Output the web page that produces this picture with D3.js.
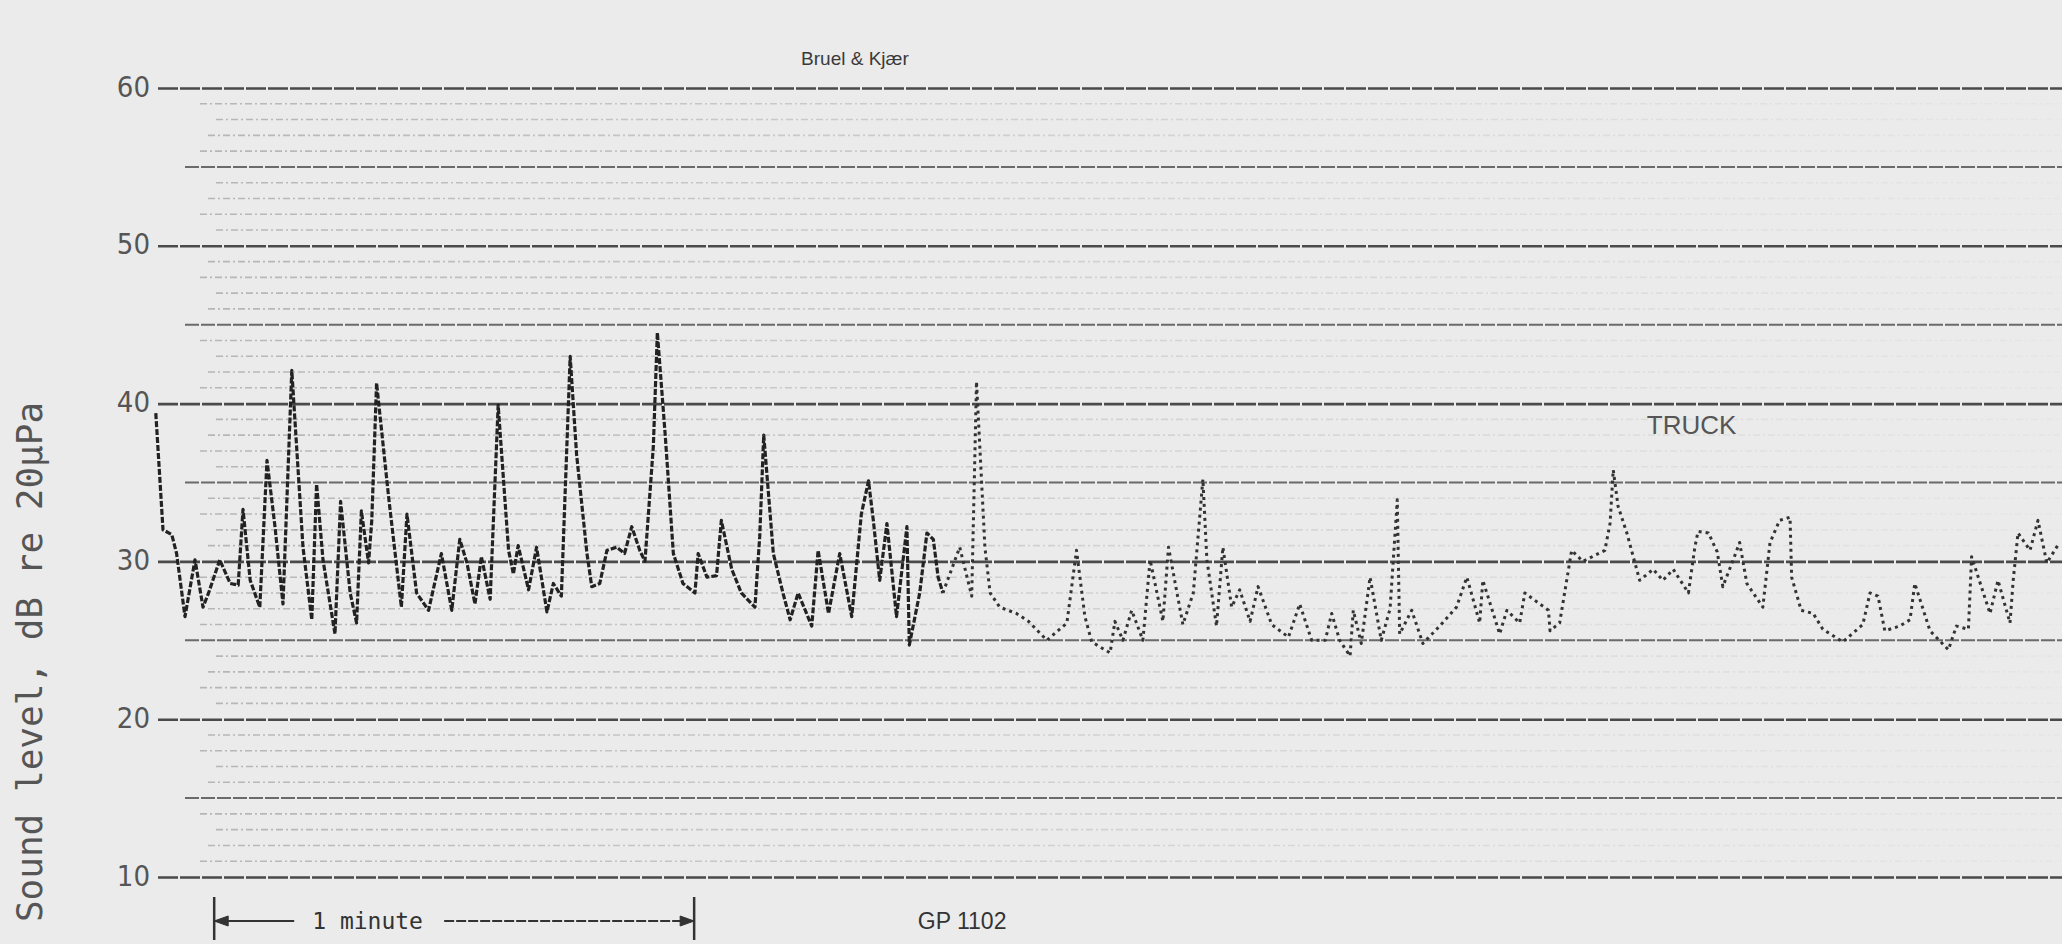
<!DOCTYPE html>
<html>
<head>
<meta charset="utf-8">
<script src="https://cdn.jsdelivr.net/npm/d3@7/dist/d3.min.js"></script>
<style>
  body { margin: 0; background: #ebebeb; overflow: hidden; }
  svg { display: block; }
</style>
</head>
<body>
<div id="chart-area"></div>
<script>
// level recorder trace, read off the strip
// time in seconds from the left edge of the strip
var times = [0.1, 1.0, 2.1, 2.7, 3.75, 5.0, 6.0, 6.7, 8.1, 9.4, 10.4, 11.0, 11.9, 13.1, 14.0, 15.0, 16.0, 17.1,
	18.5, 19.6, 20.2, 21.0, 22.5, 23.2, 24.4, 25.2, 25.8, 26.7, 27.1, 27.7, 29.2, 30.8, 31.5, 32.7, 34.2, 35.8,
	37.1, 38.1, 39.0, 40.0, 40.8, 41.9, 42.9, 44.2, 44.8, 45.4, 46.7, 47.7, 49.0, 49.8, 50.8, 51.9, 52.7, 54.0,
	54.6, 55.6, 56.5, 57.7, 58.7, 59.6, 60.6, 61.25, 62.3, 62.8, 63.8, 64.8, 66.0, 67.5, 67.9, 69.0, 70.2, 70.8,
	72.1, 73.3, 75.0, 75.6, 76.1, 77.3, 78.5, 79.4, 80.4, 82.1, 82.9, 84.2, 85.6, 87.1, 88.3, 89.2, 89.8, 90.6,
	91.5, 92.7, 94.0, 94.3, 95.6, 96.5, 97.3, 97.9, 98.5, 100.6, 102.1, 102.7, 103.75, 104.4, 105.6, 107.7, 109.2,
	111.5, 114.0, 115.2, 116.25, 117.1, 119.4, 120.0, 121.0, 122.1, 123.5, 124.4, 126.0, 126.7, 128.5, 129.8,
	131.0, 131.5, 132.7, 133.5, 134.6, 135.6, 136.9, 137.9, 139.6, 141.7, 143.1, 144.6, 146.3, 147.1, 148.1,
	149.4, 149.8, 150.8, 151.9, 153.3, 154.4, 155.3, 155.6, 157.1, 158.5, 160.6, 162.7, 164.0, 165.6, 166.0,
	168.1, 169.0, 170.6, 171.25, 174.2, 174.4, 175.6, 177.1, 178.5, 181.25, 181.9, 182.3, 182.9, 184.0, 185.6,
	187.3, 188.5, 189.8, 191.7, 192.5, 192.9, 194.2, 195.3, 196.0, 197.3, 198.1, 199.0, 201.0, 201.9, 203.1,
	204.4, 204.6, 205.8, 207.3, 208.5, 211.0, 213.5, 214.4, 215.4, 216.25, 218.1, 219.4, 220.0, 221.9, 224.2,
	225.2, 226.7, 227.1, 229.4, 230.4, 231.9, 232.3, 232.9, 234.4, 235.4, 236.5, 238.1];

// sound level, dB re 20 uPa
var levels = [39.4, 32.0, 31.7, 30.5, 26.5, 30.1, 27.1, 28.0, 30.1, 28.6, 28.5, 33.3, 28.8, 27.1, 36.4, 32.2, 27.3, 42.1,
	30.9, 26.3, 34.9, 30.1, 25.4, 33.8, 28.0, 26.1, 33.2, 29.9, 32.6, 41.3, 34.1, 27.1, 33.0, 28.0, 26.9, 30.5,
	26.9, 31.4, 29.9, 27.3, 30.3, 27.6, 39.9, 30.7, 29.2, 31.0, 28.2, 30.9, 26.8, 28.6, 27.8, 43.0, 36.8, 30.5,
	28.4, 28.6, 30.7, 30.9, 30.5, 32.2, 30.7, 30.0, 37.3, 44.5, 37.9, 30.5, 28.6, 28.0, 30.5, 29.0, 29.1, 32.6,
	29.5, 28.0, 27.1, 31.6, 38.0, 30.5, 28.0, 26.3, 28.0, 25.9, 30.7, 26.7, 30.5, 26.5, 33.0, 35.1, 32.6, 28.8,
	32.4, 26.5, 32.2, 24.7, 28.0, 31.8, 31.4, 29.0, 28.0, 30.9, 27.8, 41.4, 30.9, 28.0, 27.1, 26.7, 26.2,
	25.0, 26.1, 30.7, 26.5, 24.9, 24.2, 26.2, 25.0, 26.9, 25.0, 30.1, 26.2, 30.9, 26.0, 28.0,
	35.2, 30.1, 25.9, 30.9, 27.1, 28.2, 26.2, 28.4, 26.0, 25.2, 27.3, 25.0, 25.0, 26.7, 25.0,
	24.0, 26.9, 24.8, 29.0, 25.0, 27.0, 33.9, 25.4, 26.9, 24.8, 25.9, 27.1, 29.0, 26.1, 28.8,
	25.4, 26.9, 26.1, 28.0, 26.9, 25.6, 26.1, 30.7, 30.0, 30.7, 32.4, 35.8, 33.5, 31.8, 28.8,
	29.5, 28.8, 29.5, 28.0, 30.9, 31.9, 31.8, 30.6, 28.4, 30.1, 31.2, 28.6, 27.1, 31.2, 32.6,
	32.8, 29.0, 26.9, 26.7, 25.7, 24.9, 26.0, 28.0, 27.8, 25.6, 25.9, 26.3, 28.6, 25.6, 24.4,
	25.9, 25.7, 30.3, 26.7, 28.8, 26.1, 28.8, 31.8, 30.7, 32.6, 29.9, 31.2];

// axis values
var majorTicks = [10, 20, 30, 40, 50, 60];
var halfTicks = [15, 25, 35, 45, 55];
var paperLines = d3.range(11, 60).filter(function (v) { return v % 5 != 0; });

// texts
var chartTitle = "Bruel & Kjær";
var yTitle = "Sound level, dB re 20\u00b5Pa";
var truckLabel = "TRUCK";
var minuteLabel = "1 minute";
var sheetLabel = "GP 1102";

var totalWidth = 2062, totalHeight = 944;
var plotLeft = 155, plotRight = 2062, plotTop = 88, plotBottom = 877;

var svg = d3.select("#chart-area")
	.append("svg")
	.attr("width", totalWidth)
	.attr("height", totalHeight);

svg.append("rect")
	.attr("width", totalWidth)
	.attr("height", totalHeight)
	.attr("fill", "#ebebeb");

// scales
var x = d3.scaleLinear()
	.domain([0, 238.4])
	.range([plotLeft, plotRight]);

var y = d3.scaleLinear()
	.domain([10, 60])
	.range([plotBottom, plotTop]);

// faint chart paper lines every dB, fading towards the right
var defs = svg.append("defs");
var fade = defs.append("linearGradient")
	.attr("id", "fade")
	.attr("gradientUnits", "userSpaceOnUse")
	.attr("x1", 200).attr("x2", plotRight)
	.attr("y1", 0).attr("y2", 0);
fade.append("stop").attr("offset", "0").attr("stop-color", "#8a8a8a").attr("stop-opacity", 0.55);
fade.append("stop").attr("offset", "0.5").attr("stop-color", "#9a9a9a").attr("stop-opacity", 0.3);
fade.append("stop").attr("offset", "1").attr("stop-color", "#aaaaaa").attr("stop-opacity", 0.08);

svg.append("g")
	.attr("class", "paper")
	.selectAll("line")
	.data(paperLines)
	.enter()
	.append("line")
	.attr("x1", function (d, i) { return 200 + (i % 3) * 8; })
	.attr("x2", plotRight)
	.attr("y1", function (d) { return y(d); })
	.attr("y2", function (d) { return y(d); })
	.attr("stroke", "url(#fade)")
	.attr("stroke-width", 1.6)
	.attr("stroke-dasharray", "7,3,2,3");

// 5 dB lines
svg.append("g")
	.attr("class", "half grid")
	.selectAll("line")
	.data(halfTicks)
	.enter()
	.append("line")
	.attr("x1", 185)
	.attr("x2", plotRight)
	.attr("y1", function (d) { return y(d); })
	.attr("y2", function (d) { return y(d); })
	.attr("stroke", "#6a6a6a")
	.attr("stroke-width", 2)
	.attr("stroke-dasharray", "14,2");

// 10 dB lines
var grid = svg.append("g")
	.attr("class", "y grid")
	.attr("transform", "translate(" + 158 + ",0)")
	.call(d3.axisRight(y).tickValues(majorTicks).tickSize(plotRight - 158).tickFormat(""));
grid.select(".domain").remove();
grid.selectAll(".tick line")
	.attr("stroke", "#4a4a4a")
	.attr("stroke-width", 2.6)
	.attr("stroke-dasharray", "20,2");

// y axis labels
var yAxis = svg.append("g")
	.attr("class", "y axis")
	.attr("transform", "translate(" + 152 + ",0)")
	.call(d3.axisLeft(y).tickValues(majorTicks).tickSize(0).tickPadding(2));
yAxis.select(".domain").remove();
yAxis.selectAll("text")
	.attr("fill", "#555")
	.attr("dy", "0.28em")
	.style("font-family", "'Liberation Sans Narrow', 'Arial Narrow', 'DejaVu Sans Condensed', sans-serif")
	.style("font-size", "29px");

// y axis title
svg.append("text")
	.attr("transform", "rotate(-90)")
	.attr("x", -662)
	.attr("y", 42)
	.attr("text-anchor", "middle")
	.attr("fill", "#555")
	.style("font-family", "'DejaVu Sans Mono', 'Liberation Mono', monospace")
	.style("font-size", "36px")
	.text(yTitle);

// title
svg.append("text")
	.attr("x", x(87.5))
	.attr("y", 65)
	.attr("text-anchor", "middle")
	.attr("fill", "#3a3a3a")
	.style("font-family", "'Liberation Sans', Arial, sans-serif")
	.style("font-size", "19px")
	.text(chartTitle);

// trace
var line = d3.line()
	.x(function (d) { return x(d.t); })
	.y(function (d) { return y(d.v); });

var trace = times.map(function (t, i) { return {t: t, v: levels[i]}; });

// early part of the strip is drawn heavier
svg.append("path")
	.datum(trace.filter(function (d) { return d.t <= 98.5; }))
	.attr("class", "trace")
	.attr("fill", "none")
	.attr("stroke", "#222")
	.attr("stroke-width", 3.2)
	.attr("stroke-linejoin", "round")
	.attr("stroke-dasharray", "6,2")
	.attr("d", line);

svg.append("path")
	.datum(trace.filter(function (d) { return d.t >= 98.5; }))
	.attr("class", "trace")
	.attr("fill", "none")
	.attr("stroke", "#333")
	.attr("stroke-width", 3)
	.attr("stroke-linejoin", "round")
	.attr("stroke-dasharray", "3,4")
	.attr("d", line);

// truck note
svg.append("text")
	.attr("x", x(186.5))
	.attr("y", y(38.1))
	.attr("fill", "#555")
	.style("font-family", "'Liberation Sans Narrow', 'Arial Narrow', sans-serif")
	.style("font-size", "26px")
	.text(truckLabel);

// one minute marker
var minuteStart = 7.4, minuteEnd = 67.4;
var markY = 921;
var marker = svg.append("g")
	.attr("class", "minute")
	.attr("stroke", "#333")
	.attr("fill", "#333");

marker.selectAll(".bar")
	.data([minuteStart, minuteEnd])
	.enter()
	.append("line")
	.attr("x1", function (d) { return x(d); })
	.attr("x2", function (d) { return x(d); })
	.attr("y1", 897)
	.attr("y2", 940)
	.attr("stroke-width", 2.5);

marker.append("line")
	.attr("x1", x(minuteStart))
	.attr("x2", x(minuteStart) + 80)
	.attr("y1", markY).attr("y2", markY)
	.attr("stroke-width", 2);
marker.append("path")
	.attr("d", "M" + x(minuteStart) + "," + markY + "l14,-5l0,10z");

marker.append("line")
	.attr("x1", x(minuteEnd) - 250)
	.attr("x2", x(minuteEnd))
	.attr("y1", markY).attr("y2", markY)
	.attr("stroke-width", 2)
	.attr("stroke-dasharray", "10,2");
marker.append("path")
	.attr("d", "M" + x(minuteEnd) + "," + markY + "l-14,-5l0,10z");

svg.append("text")
	.attr("x", x(minuteStart) + 98)
	.attr("y", markY + 8)
	.attr("fill", "#333")
	.style("font-family", "'DejaVu Sans Mono', 'Liberation Mono', monospace")
	.style("font-size", "23px")
	.text(minuteLabel);

svg.append("text")
	.attr("x", x(100.9))
	.attr("y", markY + 8)
	.attr("text-anchor", "middle")
	.attr("fill", "#333")
	.style("font-family", "'Liberation Sans Narrow', 'Arial Narrow', sans-serif")
	.style("font-size", "23px")
	.text(sheetLabel);
</script>
</body>
</html>
